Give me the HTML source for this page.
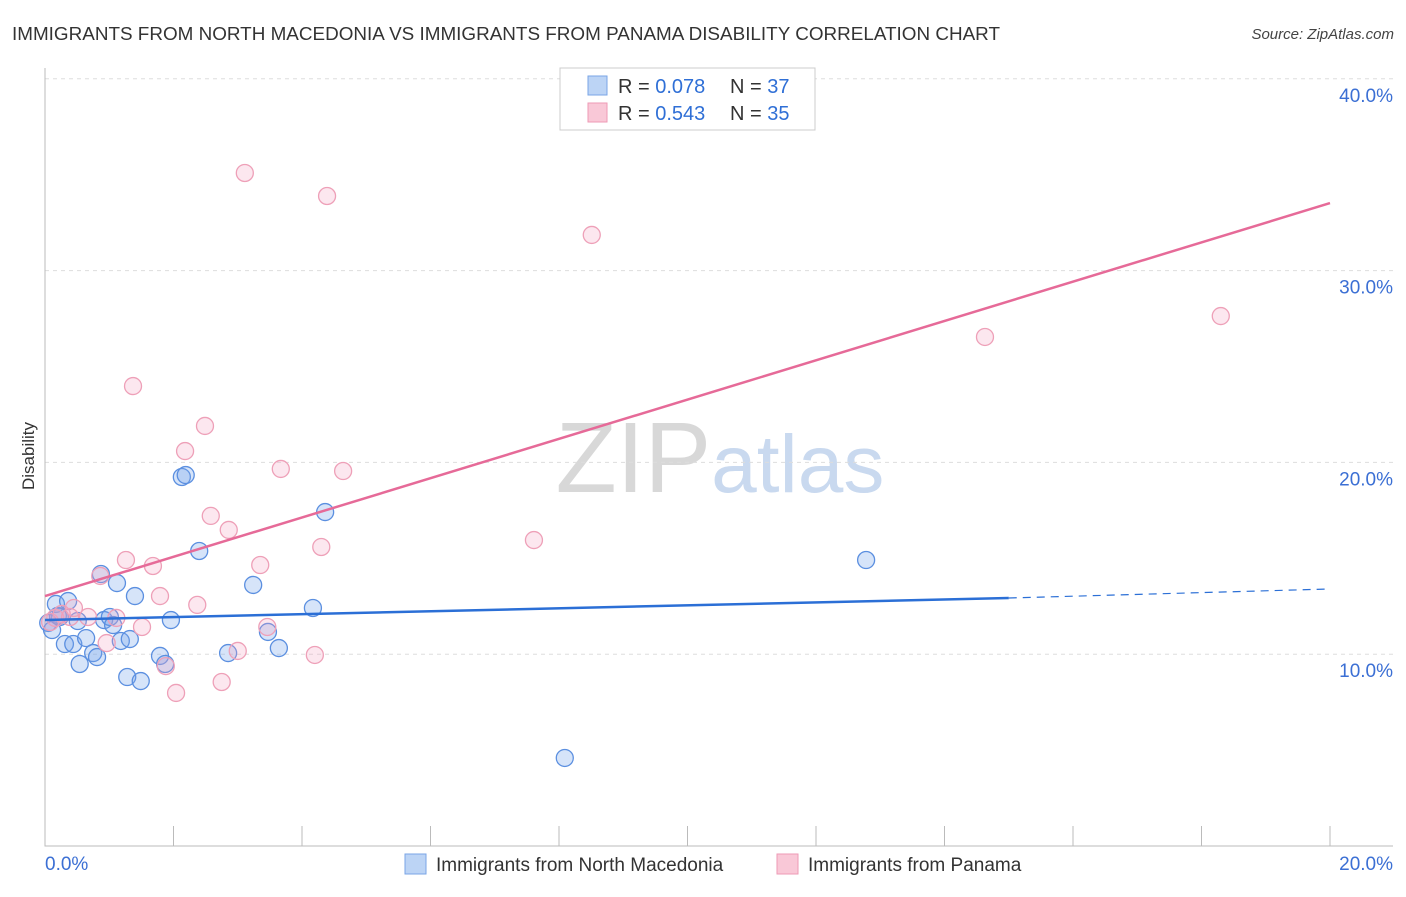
<!DOCTYPE html>
<html><head><meta charset="utf-8">
<style>
body{margin:0;background:#fff;font-family:"Liberation Sans",sans-serif;}
svg text{font-family:"Liberation Sans",sans-serif;}
</style></head>
<body>
<svg id="chart" width="1406" height="892" xmlns="http://www.w3.org/2000/svg">
<text x="12" y="40" font-size="18" fill="#333" textLength="988" lengthAdjust="spacingAndGlyphs">IMMIGRANTS FROM NORTH MACEDONIA VS IMMIGRANTS FROM PANAMA DISABILITY CORRELATION CHART</text>
<text x="1394" y="39" font-size="15" fill="#444" text-anchor="end" font-style="italic">Source: ZipAtlas.com</text>
<text x="720" y="492" font-size="100" text-anchor="middle" fill="#ddd" font-family="Liberation Serif"><tspan fill="#d8d8d8">ZIP</tspan><tspan fill="#c9d9ef" font-family="Liberation Sans" font-size="82">atlas</tspan></text>
<text transform="translate(34,456) rotate(-90)" font-size="17" fill="#333" text-anchor="middle">Disability</text>
<g id="grid"></g>
<g id="marks"></g>
<g>
<rect x="560" y="68" width="255" height="62" fill="#fff" stroke="#ccc"/>
<rect x="588" y="76" width="19" height="19" fill="#bcd4f5" stroke="#7aa5e6"/>
<rect x="588" y="103" width="19" height="19" fill="#f9c8d7" stroke="#ee9ab5"/>
<text x="618" y="93" font-size="20" fill="#333">R = <tspan fill="#2f6fd6">0.078</tspan></text>
<text x="730" y="93" font-size="20" fill="#333">N = <tspan fill="#2f6fd6">37</tspan></text>
<text x="618" y="120" font-size="20" fill="#333">R = <tspan fill="#2f6fd6">0.543</tspan></text>
<text x="730" y="120" font-size="20" fill="#333">N = <tspan fill="#2f6fd6">35</tspan></text>
</g>
<g>
<rect x="405" y="854" width="21" height="20" fill="#bcd4f5" stroke="#7aa5e6"/>
<text x="436" y="871" font-size="19" fill="#333">Immigrants from North Macedonia</text>
<rect x="777" y="854" width="21" height="20" fill="#f9c8d7" stroke="#ee9ab5"/>
<text x="808" y="871" font-size="19" fill="#333">Immigrants from Panama</text>
</g>
</svg>
<script>
const yTicks=[10,20,30,40];
const yTickLabels=["10.0%","20.0%","30.0%","40.0%"];
const xTickLabels=["0.0%","20.0%"];
const blueX=[0.05,0.11,0.17,0.23,0.36,0.31,0.44,0.51,0.54,0.64,0.75,0.81,0.87,0.92,1.01,1.06,1.12,1.18,1.28,1.32,1.40,1.49,1.79,1.87,1.96,2.13,2.19,2.40,2.85,3.24,3.47,3.64,4.17,4.36,8.09,12.78,0.2];
const blueY=[11.63,11.26,12.62,11.94,12.77,10.53,10.53,11.73,9.49,10.84,10.06,9.85,14.18,11.78,11.94,11.52,13.71,10.69,8.81,10.79,13.03,8.60,9.91,9.49,11.78,19.24,19.34,15.38,10.06,13.61,11.16,10.32,12.41,17.41,4.59,14.91,12.0];
const pinkX=[0.08,0.16,0.26,0.39,0.45,0.67,0.86,0.96,1.11,1.26,1.37,1.51,1.68,1.79,1.88,2.04,2.18,2.37,2.49,2.58,2.75,2.86,3.00,3.11,3.35,3.46,3.67,4.20,4.30,4.39,4.64,7.61,8.51,14.63,18.30];
const pinkY=[11.68,11.89,12.10,11.94,12.41,11.94,14.08,10.58,11.89,14.91,23.98,11.42,14.60,13.03,9.38,7.98,20.59,12.57,21.90,17.21,8.55,16.48,10.17,35.09,14.65,11.42,19.66,9.96,15.59,33.89,19.55,15.95,31.86,26.54,27.63];
const blueTrend=[11.78,12.93,13.4]; // at x=0, 15, 20
const pinkTrend=[13.03,33.52]; // at x=0, 20
const X=v=>45+v*64.25, Y=v=>846-v*19.18;
const NS="http://www.w3.org/2000/svg";
const grid=document.getElementById('grid'), marks=document.getElementById('marks');
function mk(tag,attrs,parent){const e=document.createElementNS(NS,tag);for(const k in attrs)e.setAttribute(k,attrs[k]);parent.appendChild(e);return e;}
yTicks.forEach((t,i)=>{
 const g=mk('line',{x1:45,x2:1393,y1:Y(t),y2:Y(t),stroke:'#ddd','stroke-dasharray':'4,4'},grid);
 
 
 const tx=mk('text',{x:1393,y:Y(t)+23,'font-size':19,fill:'#3b6fd4','text-anchor':'end'},grid);
 tx.textContent=yTickLabels[i];
 
 
});
const ax=mk('path',{d:'M45,68V846H1393',stroke:'#bbb',fill:'none'},grid);


for(let i=1;i<=10;i++){
 const t=mk('line',{x1:X(i*2),x2:X(i*2),y1:826,y2:846,stroke:'#bbb'},grid);
 
 
}
[[0,'start',45],[20,'end',1393]].forEach((a,i)=>{
 const tx=mk('text',{x:a[2],y:870,'font-size':19,fill:'#3b6fd4','text-anchor':a[1]},grid);
 tx.textContent=xTickLabels[i];
 
 
});
blueX.forEach((x,i)=>{
 const c=mk('circle',{cx:X(x),cy:Y(blueY[i]),r:8.5,fill:'rgba(120,165,235,0.3)',stroke:'#5b8fe0','stroke-width':1.3},marks);
 
 
});
pinkX.forEach((x,i)=>{
 const c=mk('circle',{cx:X(x),cy:Y(pinkY[i]),r:8.5,fill:'rgba(245,160,190,0.25)',stroke:'#eea0b8','stroke-width':1.3},marks);
 
 
});
let l=mk('line',{x1:X(0),y1:Y(blueTrend[0]),x2:X(15),y2:Y(blueTrend[1]),stroke:'#2b6fd6','stroke-width':2.5},marks);


l=mk('line',{x1:X(15),y1:Y(blueTrend[1]),x2:X(20),y2:Y(blueTrend[2]),stroke:'#2b6fd6','stroke-width':1.2,'stroke-dasharray':'8,6'},marks);


l=mk('line',{x1:X(0),y1:Y(pinkTrend[0]),x2:X(20),y2:Y(pinkTrend[1]),stroke:'#e66a98','stroke-width':2.5},marks);


</script>
</body></html>
